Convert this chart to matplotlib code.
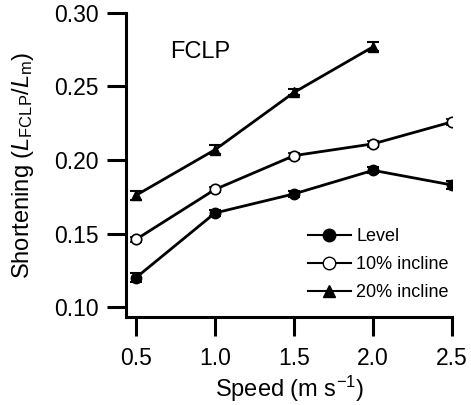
import matplotlib
matplotlib.use("Agg")
import matplotlib.pyplot as plt
from matplotlib.lines import Line2D

plt.rcParams['font.family'] = ['Liberation Sans', 'DejaVu Sans']
plt.rcParams['mathtext.fontset'] = 'custom'
plt.rcParams['mathtext.rm'] = 'Liberation Sans'
plt.rcParams['mathtext.it'] = 'Liberation Sans:italic'
plt.rcParams['mathtext.default'] = 'regular'

speed = [0.5, 1.0, 1.5, 2.0, 2.5]
level = [0.120, 0.164, 0.177, 0.193, 0.183]
level_err = [0.003, 0.002, 0.002, 0.002, 0.003]
incl10 = [0.146, 0.180, 0.203, 0.211, 0.226]
incl10_err = [0.002, 0.002, 0.002, 0.002, 0.002]
speed20 = [0.5, 1.0, 1.5, 2.0]
incl20 = [0.176, 0.207, 0.246, 0.277]
incl20_err = [0.003, 0.003, 0.002, 0.003]
labels = ['Level', '10% incline', '20% incline']

fig = plt.figure(figsize=(4.71, 4.05), dpi=100)
ax = fig.add_axes([0.2675, 0.217, 0.6925, 0.751])

common = dict(color='black', lw=2.0, ecolor='black', elinewidth=1.5,
              capsize=4, capthick=1.5, ms=7.5)
ax.errorbar(speed, level, yerr=level_err, marker='o', mfc='black', mec='black', **common)
ax.errorbar(speed, incl10, yerr=incl10_err, marker='o', mfc='white', mec='black', mew=1.2, **common)
ax.errorbar(speed20, incl20, yerr=incl20_err, marker='^', mfc='black', mec='black', **common)

ax.set_xlim(0.437, 2.5)
ax.set_ylim(0.0932, 0.30)
ax.set_xticks(speed)
ax.set_xticklabels(['0.5', '1.0', '1.5', '2.0', '2.5'])
ax.set_yticks([0.10, 0.15, 0.20, 0.25, 0.30])
ax.set_yticklabels(['0.10', '0.15', '0.20', '0.25', '0.30'])
ax.tick_params(direction='out', length=13.5, width=2.2, labelsize=16.5)
ax.tick_params(axis='y', pad=6)
ax.tick_params(axis='x', pad=8)
for s in ['top', 'right']:
    ax.spines[s].set_visible(False)
for s in ['left', 'bottom']:
    ax.spines[s].set_linewidth(2.2)

ax.set_xlabel(r'Speed (m s$^{-1}$)', fontsize=17, labelpad=3)
ax.set_ylabel(r'Shortening ($\mathit{L}_{\mathrm{FCLP}}/\mathit{L}_{\mathrm{m}}$)', fontsize=17, labelpad=13)

ax.text(0.227, 0.872, 'FCLP', transform=ax.transAxes, fontsize=17, ha='center', va='center')

hs = [Line2D([], [], color='black', lw=1.5, marker='o', mfc='black', mec='black', ms=9),
      Line2D([], [], color='black', lw=1.5, marker='o', mfc='white', mec='black', ms=9),
      Line2D([], [], color='black', lw=1.5, marker='^', mfc='black', mec='black', ms=9)]
ax.legend(hs, labels, loc='lower right', bbox_to_anchor=(1.04, 0.0), frameon=False,
          fontsize=13, handlelength=2.4, handletextpad=0.3, labelspacing=0.6)

fig.savefig('out.png', dpi=100)
